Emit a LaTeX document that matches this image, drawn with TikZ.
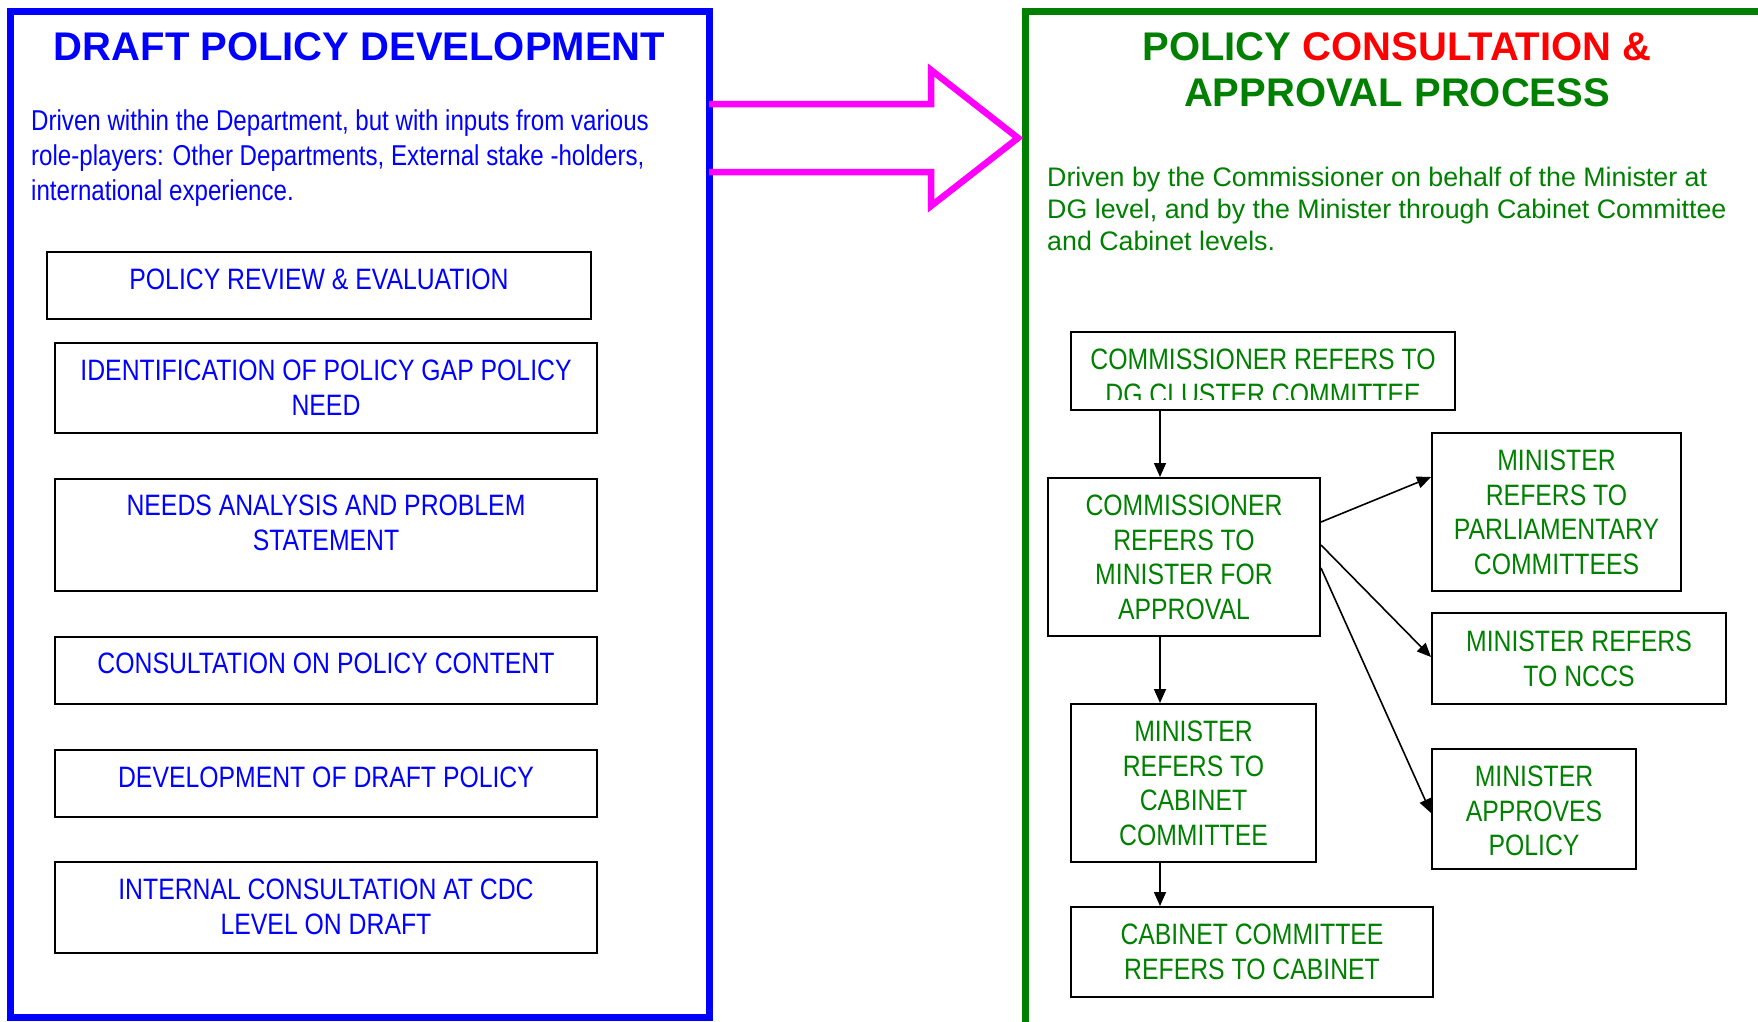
\documentclass[tikz,border=0pt]{standalone}
\usepackage{fontspec}
\setmainfont{Liberation Sans}
\newfontfamily\narrowfont[FakeStretch=0.84]{Liberation Sans}
\usetikzlibrary{arrows.meta}
\definecolor{pblue}{RGB}{0,0,255}
\definecolor{pgreen}{RGB}{0,128,0}
\definecolor{pred}{RGB}{255,0,0}
\definecolor{pmag}{RGB}{255,0,255}
\begin{document}
\begin{tikzpicture}[x=1pt,y=-1pt,
  box/.style={draw=black, line width=2pt, inner sep=0pt, anchor=north west},
  txt/.style={inner sep=0pt, align=center, anchor=north},
  ltxt/.style={txt, text=pblue, font=\narrowfont\fontsize{29.5}{34.5}\selectfont},
  rtxt/.style={txt, text=pgreen, font=\narrowfont\fontsize{29.5}{34.5}\selectfont},
  arr/.style={line width=1.6pt, -{Triangle[length=14pt, width=12pt]}}
]
\useasboundingbox (0,0) rectangle (1758,1021);
% frames
\draw[pblue, line width=7pt] (10,11) rectangle (709,1017);
\draw[pgreen, line width=7pt] (1025,1040) -- (1025,11) -- (1780,11);
% block arrow
\draw[pmag, line width=6.5pt, line join=miter] (709,104) -- (931,104) -- (931,70) -- (1018,138) -- (931,206) -- (931,172) -- (709,172);
% titles
\node[inner sep=0pt, anchor=north, text=pblue, font=\bfseries\fontsize{40}{46}\selectfont] (ltitle) at (359.5,32) {DRAFT POLICY DEVELOPMENT};
\node[inner sep=0pt, anchor=north, align=center, text=pgreen, font=\bfseries\fontsize{40}{46}\selectfont] (rtitle) at (1397,32) {POLICY {\color{pred}CONSULTATION \&}\\APPROVAL PROCESS};
% descriptions
\node[inner sep=0pt, anchor=north west, align=left, text=pblue, font=\narrowfont\fontsize{28.7}{35}\selectfont] (ldesc) at (31,109) {Driven within the Department, but with inputs from various\\role-players: Other Departments, External stake -holders,\\international experience.};
\node[inner sep=0pt, anchor=north west, align=left, text=pgreen, font=\fontsize{26.8}{31.7}\selectfont] (rdesc) at (1047,167) {Driven by the Commissioner on behalf of the Minister at\\DG level, and by the Minister through Cabinet Committee\\and Cabinet levels.};
% left boxes
\node[box, minimum width=544pt, minimum height=67pt] (l1) at (46,251) {};
\node[box, minimum width=542pt, minimum height=90pt] (l2) at (54,342) {};
\node[box, minimum width=542pt, minimum height=112pt] (l3) at (54,478) {};
\node[box, minimum width=542pt, minimum height=67pt] (l4) at (54,636) {};
\node[box, minimum width=542pt, minimum height=67pt] (l5) at (54,749) {};
\node[box, minimum width=542pt, minimum height=91pt] (l6) at (54,861) {};
\node[ltxt] (l1t) at ([yshift=-18pt]l1.north) {POLICY REVIEW \& EVALUATION};
\node[ltxt] (l2t) at ([yshift=-18pt]l2.north) {IDENTIFICATION OF POLICY GAP POLICY\\NEED};
\node[ltxt] (l3t) at ([yshift=-17pt]l3.north) {NEEDS ANALYSIS AND PROBLEM\\STATEMENT};
\node[ltxt] (l4t) at ([yshift=-17pt]l4.north) {CONSULTATION ON POLICY CONTENT};
\node[ltxt] (l5t) at ([yshift=-18pt]l5.north) {DEVELOPMENT OF DRAFT POLICY};
\node[ltxt] (l6t) at ([yshift=-18pt]l6.north) {INTERNAL CONSULTATION AT CDC\\LEVEL ON DRAFT};
% right boxes
\node[box, minimum width=384pt, minimum height=78pt] (r1) at (1070,331) {};
\node[box, minimum width=272pt, minimum height=158pt] (r2) at (1047,477) {};
\node[box, minimum width=249pt, minimum height=158pt] (r3) at (1431,432) {};
\node[box, minimum width=294pt, minimum height=91pt] (r4) at (1431,612) {};
\node[box, minimum width=204pt, minimum height=120pt] (r5) at (1431,748) {};
\node[box, minimum width=245pt, minimum height=158pt] (r6) at (1070,703) {};
\node[box, minimum width=362pt, minimum height=90pt] (r7) at (1070,906) {};
\begin{scope}
\clip (1070,331) rectangle (1454,399);
\node[rtxt] (r1t) at ([yshift=-18pt]r1.north) {COMMISSIONER REFERS TO\\DG CLUSTER COMMITTEE};
\end{scope}
\node[rtxt] (r2t) at ([yshift=-18pt]r2.north) {COMMISSIONER\\REFERS TO\\MINISTER FOR\\APPROVAL};
\node[rtxt] (r3t) at ([yshift=-18pt]r3.north) {MINISTER\\REFERS TO\\PARLIAMENTARY\\COMMITTEES};
\node[rtxt] (r4t) at ([yshift=-19pt]r4.north) {MINISTER REFERS\\TO NCCS};
\node[rtxt] (r5t) at ([yshift=-18pt]r5.north) {MINISTER\\APPROVES\\POLICY};
\node[rtxt] (r6t) at ([yshift=-18pt]r6.north) {MINISTER\\REFERS TO\\CABINET\\COMMITTEE};
\node[rtxt] (r7t) at ([yshift=-18pt]r7.north) {CABINET COMMITTEE\\REFERS TO CABINET};
% connectors
\draw[arr] ([xshift=90pt]r1.south west) -- ([xshift=113pt]r2.north west);
\draw[arr] ([xshift=113pt]r2.south west) -- ([xshift=90pt]r6.north west);
\draw[arr] ([xshift=90pt]r6.south west) -- ([xshift=90pt]r7.north west);
\draw[arr] ([yshift=-45pt]r2.north east) -- ([yshift=-45pt]r3.north west);
\draw[arr] ([yshift=-68pt]r2.north east) -- ([yshift=-45pt]r4.north west);
\draw[arr] ([yshift=-91pt]r2.north east) -- ([yshift=-65pt]r5.north west);
\end{tikzpicture}
\end{document}
